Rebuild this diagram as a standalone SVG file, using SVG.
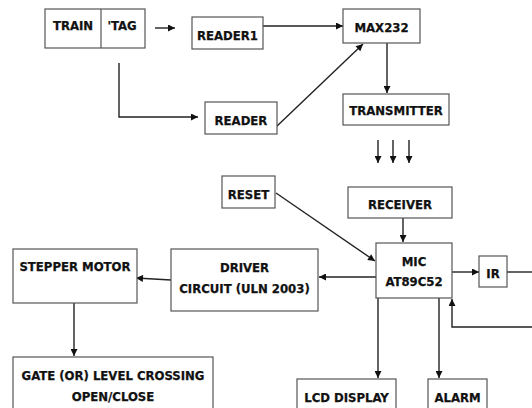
<svg xmlns="http://www.w3.org/2000/svg" width="532" height="408" viewBox="0 0 532 408">
<style>
.b{fill:#fff;stroke:#555;stroke-width:1.2}
.t{font-family:"DejaVu Sans Condensed","DejaVu Sans",sans-serif;font-stretch:condensed;font-weight:bold;font-size:13px;fill:#111;stroke:#111;stroke-width:0.25;text-anchor:middle}
.c{fill:none;stroke:#222;stroke-width:1.4}
</style>
<defs>
<marker id="a" viewBox="0 0 10 10" refX="10" refY="5" markerWidth="8" markerHeight="7" markerUnits="userSpaceOnUse" orient="auto">
<path d="M0,0L10,5L0,10z" fill="#111"/>
</marker>
</defs>
<rect width="532" height="408" fill="#fff"/>
<g id="connectors">
<line class="c" x1="155" y1="28" x2="175" y2="28" marker-end="url(#a)"/>
<line class="c" x1="263" y1="26" x2="343" y2="26" marker-end="url(#a)"/>
<polyline class="c" points="119,63 119,117 198,117" marker-end="url(#a)"/>
<line class="c" x1="276" y1="127" x2="363" y2="44" marker-end="url(#a)"/>
<line class="c" x1="387" y1="43" x2="387" y2="93" marker-end="url(#a)"/>
<line class="c" x1="378" y1="140" x2="378" y2="163" marker-end="url(#a)"/>
<line class="c" x1="393" y1="140" x2="393" y2="163" marker-end="url(#a)"/>
<line class="c" x1="409" y1="140" x2="409" y2="163" marker-end="url(#a)"/>
<line class="c" x1="276" y1="193" x2="375" y2="261" marker-end="url(#a)"/>
<line class="c" x1="403" y1="218" x2="403" y2="242" marker-end="url(#a)"/>
<line class="c" x1="452" y1="272" x2="479" y2="272" marker-end="url(#a)"/>
<line class="c" x1="507" y1="272" x2="532" y2="272"/>
<polyline class="c" points="532,327 452,327 452,299" marker-end="url(#a)"/>
<line class="c" x1="376" y1="277" x2="319" y2="277" marker-end="url(#a)"/>
<line class="c" x1="171" y1="280" x2="136" y2="278" marker-end="url(#a)"/>
<line class="c" x1="74" y1="303" x2="74" y2="356" marker-end="url(#a)"/>
<line class="c" x1="378" y1="298" x2="378" y2="378" marker-end="url(#a)"/>
<line class="c" x1="439" y1="298" x2="439" y2="378" marker-end="url(#a)"/>
</g>
<g id="train-tag">
<rect class="b" x="45" y="9" width="100" height="39"/>
<line x1="101" y1="9" x2="101" y2="48" stroke="#555" stroke-width="1.2"/>
<text class="t" x="73" y="30">TRAIN</text>
<text class="t" x="122" y="30">'TAG</text>
</g>
<g id="reader1">
<rect class="b" x="192" y="17" width="71" height="32"/>
<text class="t" x="227.5" y="40">READER1</text>
</g>
<g id="reader">
<rect class="b" x="205" y="102" width="72" height="32"/>
<text class="t" x="241" y="125">READER</text>
</g>
<g id="max232">
<rect class="b" x="343" y="9" width="77" height="34"/>
<text class="t" x="381.5" y="32">MAX232</text>
</g>
<g id="transmitter">
<rect class="b" x="343" y="94" width="106" height="31"/>
<text class="t" x="396" y="115">TRANSMITTER</text>
</g>
<g id="reset">
<rect class="b" x="222" y="176" width="53" height="32"/>
<text class="t" x="248.5" y="199">RESET</text>
</g>
<g id="receiver">
<rect class="b" x="348" y="187" width="104" height="31"/>
<text class="t" x="400" y="209">RECEIVER</text>
</g>
<g id="mic">
<rect class="b" x="376" y="243" width="76" height="55"/>
<text class="t" x="414" y="266">MIC</text>
<text class="t" x="414" y="286">AT89C52</text>
</g>
<g id="ir">
<rect class="b" x="479" y="256" width="28" height="31"/>
<text class="t" x="493" y="278">IR</text>
</g>
<g id="driver">
<rect class="b" x="171" y="249" width="147" height="62"/>
<text class="t" x="244.5" y="272">DRIVER</text>
<text class="t" x="244.5" y="293">CIRCUIT (ULN 2003)</text>
</g>
<g id="stepper">
<rect class="b" x="13" y="249" width="124" height="54"/>
<text class="t" x="75" y="271">STEPPER MOTOR</text>
</g>
<g id="gate">
<rect class="b" x="13" y="357" width="200" height="60"/>
<text class="t" x="113" y="380">GATE (OR) LEVEL CROSSING</text>
<text class="t" x="113" y="401">OPEN/CLOSE</text>
</g>
<g id="lcd">
<rect class="b" x="297" y="379" width="99" height="40"/>
<text class="t" x="346.5" y="402">LCD DISPLAY</text>
</g>
<g id="alarm">
<rect class="b" x="428" y="379" width="59" height="40"/>
<text class="t" x="457.5" y="402">ALARM</text>
</g>
</svg>
